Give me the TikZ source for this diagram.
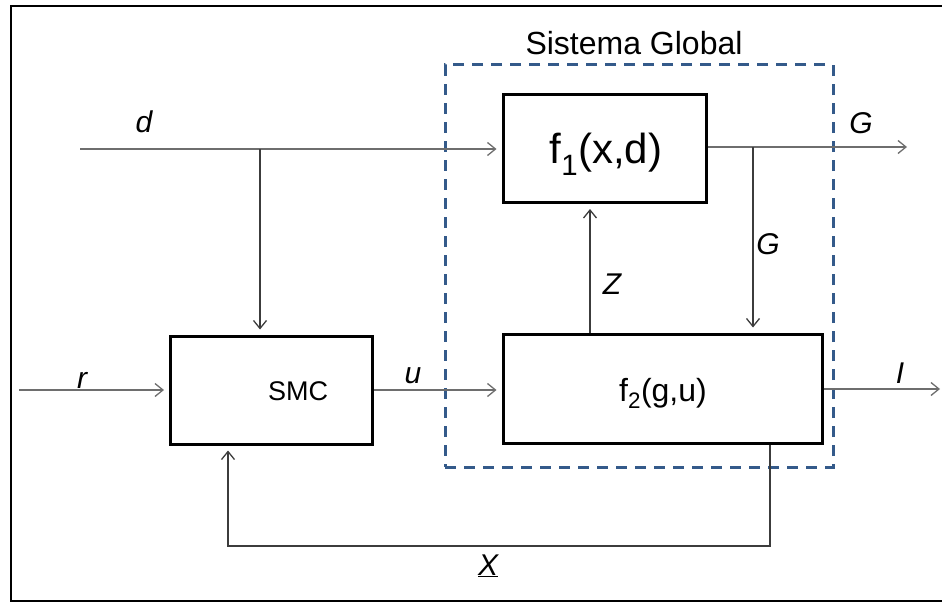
\documentclass[tikz,border=0pt]{standalone}
\usepackage{fontspec}
\setmainfont{Liberation Sans}
\usetikzlibrary{arrows.meta}
\definecolor{wire}{RGB}{110,110,110}
\definecolor{wiredark}{RGB}{60,60,60}
\definecolor{sysblue}{RGB}{52,90,138}
\tikzset{
  blockbox/.style={draw=black, line width=3pt, rectangle, inner sep=0pt},
  wirearrow/.style={draw=wire, line width=1.3pt,
    -{Straight Barb[length=8pt,width=13pt,line width=1.3pt]}, shorten >=5pt},
  wiredarrow/.style={wirearrow, draw=wiredark},
  siglabel/.style={font=\fontsize{30}{36}\selectfont\itshape, anchor=base, inner sep=0pt},
  boxtext/.style={font=\fontsize{32}{38}\selectfont, inner sep=0pt}
}
\begin{document}
\begin{tikzpicture}[x=1pt, y=-1pt]
\useasboundingbox (0,0) rectangle (942,602);

% outer frame (open on the right side)
\draw[line width=2.5pt, black] (950,6) -- (11,6) -- (11,601) -- (950,601);

% dashed system boundary
\node[draw=sysblue, line width=3pt, dash pattern=on 11pt off 8pt, rectangle,
      minimum width=388pt, minimum height=402pt, inner sep=0pt] (sys) at (639,266) {};
\node[font=\fontsize{32}{38}\selectfont, anchor=base, inner sep=0pt] (systitle) at (634,55) {Sistema Global};

% blocks
\node[blockbox, minimum width=203pt, minimum height=108pt] (f1) at (604.5,148.5) {};
\node[blockbox, minimum width=319pt, minimum height=109pt] (f2) at (662.5,388.5) {};
\node[blockbox, minimum width=202pt, minimum height=108pt] (smc) at (271.5,390) {};

% block captions
\node[boxtext, font=\fontsize{42}{50}\selectfont] (f1text) at (606,154) {f\textsubscript{1}(x,d)};
\node[boxtext] (f2text) at (663,393) {f\textsubscript{2}(g,u)};
\node[font=\fontsize{27}{32}\selectfont, inner sep=0pt] (smctext) at (298,391) {SMC};

% free ends and branch points
\coordinate (dstart) at (80,149);
\coordinate (dbr) at (260,149);
\coordinate (rstart) at (19,390);
\coordinate (Gend) at (912,147);
\coordinate (gbr) at (753,147);
\coordinate (zx) at (590,0);
\coordinate (Iend) at (945,389);
\coordinate (fb1) at (770,546);
\coordinate (fb2) at (228,546);

% connectors
\draw[wirearrow] (dstart) -- (dstart -| f1.west);
\draw[wiredarrow] (dbr) -- (dbr |- smc.north);
\draw[wirearrow] (rstart) -- (smc.west);
\draw[wirearrow] (smc.east) -- (smc.east -| f2.west);
\draw[wirearrow] (f1.east |- Gend) -- (Gend);
\draw[wiredarrow] (gbr) -- (gbr |- f2.north);
\draw[wiredarrow] (f2.north -| zx) -- (f1.south -| zx);
\draw[wirearrow] (f2.east |- Iend) -- (Iend);
\draw[wiredarrow] (f2.south -| fb1) -- (fb1) -- (fb2) -- (fb2 |- smc.south);

% signal labels
\node[siglabel] (ld) at (144,132) {d};
\node[siglabel] (lG1) at (861,133) {G};
\node[siglabel] (lG2) at (768,254) {G};
\node[siglabel] (lZ) at (612,294) {Z};
\node[siglabel] (lr) at (82,388) {r};
\node[siglabel] (lu) at (413,383) {u};
\node[siglabel] (lI) at (900,383) {I};
\node[siglabel] (lX) at (488,575) {\underline{X}};
\end{tikzpicture}
\end{document}
